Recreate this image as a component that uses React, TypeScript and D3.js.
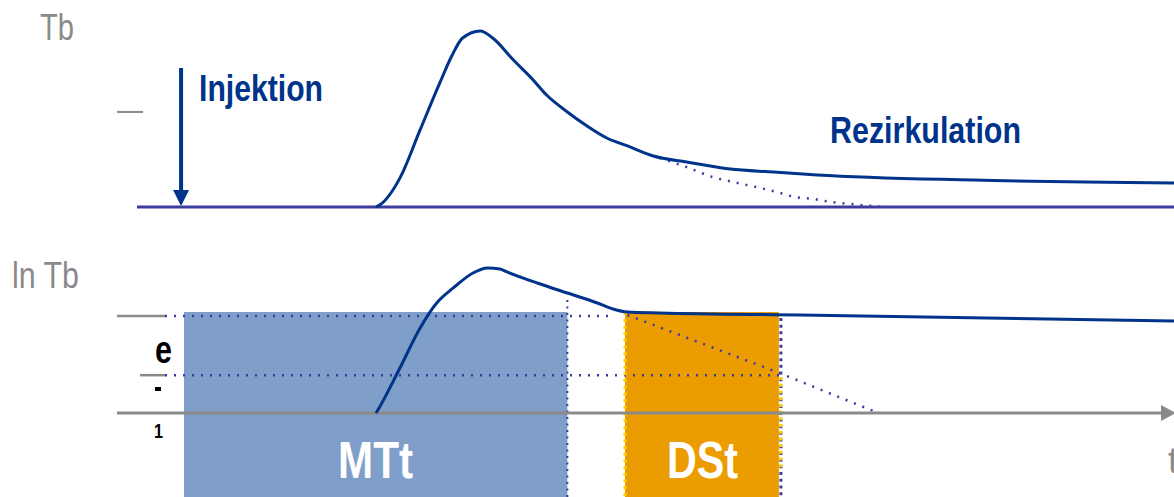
import React from "react";
import * as d3 from "d3";

// time axis (arbitrary units 0..100), values
const topCurveT = [23.05, 23.4, 25.4, 27.3, 29.2, 30.4, 31.4, 33.1, 34.3, 36.3, 38.2, 39.5, 41.5, 43.4, 45.3, 47.3, 49.8, 53.0, 57.2, 61.4, 65.6, 80.7, 100];
const topCurveV = [0, 1.1, 17, 43.8, 70.5, 86.4, 96, 100, 96, 83.5, 72.2, 63.6, 54, 46, 39.2, 34.7, 29, 25.6, 21.6, 19.9, 18.2, 15.3, 13.6];
const topExtrapT = [50.4, 53.0, 55.5, 57.5, 60.1, 62.0, 63.4, 65.3, 67.0, 68.9, 70.8, 72.2];
const topExtrapV = [27.8, 22.7, 17, 14.2, 10.8, 8, 5.7, 4.5, 2.8, 1.7, 0.6, 0];

const lnCurveT = [23.05, 23.4, 25.4, 27.3, 28.9, 30.5, 32.4, 33.8, 35.0, 35.7, 38.6, 41.5, 44.4, 45.9, 47.3, 50.4, 63.9, 100];
const lnCurveV = [0, 0.062, 0.474, 0.876, 1.134, 1.289, 1.443, 1.495, 1.485, 1.454, 1.34, 1.237, 1.134, 1.072, 1.041, 1.031, 1.01, 0.948];
const lnExtrapT = [47.3, 62.0, 71.5];
const lnExtrapV = [1.01, 0.41, 0];

const injectionT = 4.25;
const mttRange = [4.53, 41.5];
const dstRange = [47.06, 61.9];
const levelOne = 1;
const levelE = 0.39;
const labels = { top: "Tb", bottom: "ln Tb", inj: "Injektion", rez: "Rezirkulation", mtt: "MTt", dst: "DSt", t: "t" };

const W = 1174;
const H = 497;
const NAVY = "#00338a";
const BASE = "#3c3c9e";
const GRAY = "#8a8a8a";
const FONT = "'Liberation Sans', Arial, sans-serif";

function NText(props: { x: number; y: number; w?: number; size: number; bold?: boolean; fill: string; children: string; anchor?: string }) {
  const { x, y, w, size, bold, fill, children, anchor } = props;
  return (
    <text
      x={x}
      y={y}
      fontSize={size}
      fontWeight={bold ? "bold" : "normal"}
      fill={fill}
      textAnchor={anchor || "start"}
      textLength={w}
      lengthAdjust={w ? "spacingAndGlyphs" : undefined}
    >
      {children}
    </text>
  );
}

export default function App() {
  const x = d3.scaleLinear().domain([0, 100]).range([137, 1174]);
  const yTop = d3.scaleLinear().domain([0, 100]).range([207, 31]);
  const yLn = d3.scaleLinear().domain([0, 1]).range([413, 316]);

  const topLine = d3.line<number>().x((_, i) => x(topCurveT[i])).y((v) => yTop(v)).curve(d3.curveMonotoneX);
  const topEx = d3.line<number>().x((_, i) => x(topExtrapT[i])).y((v) => yTop(v)).curve(d3.curveMonotoneX);
  const lnLine = d3.line<number>().x((_, i) => x(lnCurveT[i])).y((v) => yLn(v)).curve(d3.curveMonotoneX);
  const lnEx = d3.line<number>().x((_, i) => x(lnExtrapT[i])).y((v) => yLn(v));

  const yBottom = H;
  const xStartDots = 165;

  return (
    <svg width={W} height={H} style={{ position: "fixed", left: 0, top: 0, background: "#fff" }} fontFamily={FONT}>
      {/* Top panel */}
      <NText x={40} y={40} w={34} size={36} fill={GRAY}>{labels.top}</NText>
      <line x1={117} x2={143} y1={yTop(54)} y2={yTop(54)} stroke={GRAY} strokeWidth={2} />
      <line x1={x(0)} x2={W} y1={yTop(0)} y2={yTop(0)} stroke={BASE} strokeWidth={3} />
      <line x1={x(injectionT)} x2={x(injectionT)} y1={68} y2={yTop(0) - 14} stroke={NAVY} strokeWidth={4} />
      <path d={`M${x(injectionT) - 8},${yTop(0) - 17} L${x(injectionT) + 8},${yTop(0) - 17} L${x(injectionT)},${yTop(0) - 1} Z`} fill={NAVY} />
      <NText x={199} y={101} w={124} size={36} bold fill={NAVY}>{labels.inj}</NText>
      <NText x={830} y={143} w={191} size={37} bold fill={NAVY}>{labels.rez}</NText>
      <path d={topEx(topExtrapV) || ""} fill="none" stroke={BASE} strokeWidth={2.5} strokeDasharray="2 7" />
      <path d={topLine(topCurveV) || ""} fill="none" stroke={NAVY} strokeWidth={3} />

      {/* Bottom panel */}
      <NText x={12} y={288} w={67} size={36} fill={GRAY}>{labels.bottom}</NText>
      <rect x={x(mttRange[0])} y={yLn(1.041)} width={x(mttRange[1]) - x(mttRange[0])} height={yBottom - yLn(1.041)} fill="#7f9ec9" />
      <rect x={x(dstRange[0])} y={yLn(1.041)} width={x(dstRange[1]) - x(dstRange[0])} height={yBottom - yLn(1.041)} fill="#eb9c00" />

      {/* left ticks */}
      <line x1={117} x2={xStartDots} y1={yLn(levelOne)} y2={yLn(levelOne)} stroke={GRAY} strokeWidth={2.5} />
      <line x1={140} x2={xStartDots} y1={yLn(levelE)} y2={yLn(levelE)} stroke={GRAY} strokeWidth={2.5} />
      <NText x={155} y={363} w={17} size={38} bold fill="#000">e</NText>
      <rect x={155} y={387} width={6} height={4} fill="#000" />
      <NText x={154} y={438} w={9} size={21} bold fill="#000">1</NText>

      {/* dotted reference lines */}
      <line x1={xStartDots} x2={613} y1={yLn(levelOne)} y2={yLn(levelOne)} stroke={BASE} strokeWidth={2.5} strokeDasharray="2 7" />
      <line x1={xStartDots} x2={780} y1={yLn(levelE)} y2={yLn(levelE)} stroke={BASE} strokeWidth={2.5} strokeDasharray="2 7" />
      <line x1={x(mttRange[1])} x2={x(mttRange[1])} y1={yLn(1.165)} y2={yBottom} stroke={BASE} strokeWidth={2} strokeDasharray="2 4.5" />
      <line x1={x(dstRange[0])} x2={x(dstRange[0])} y1={yLn(1.041)} y2={yBottom} stroke="#ffd000" strokeWidth={3} strokeDasharray="3 3.7" />
      <line x1={x(dstRange[1]) + 2} x2={x(dstRange[1]) + 2} y1={yLn(0.98)} y2={yBottom} stroke={BASE} strokeWidth={3} strokeDasharray="3 3.7" />
      <line x1={x(dstRange[1]) + 2} x2={x(dstRange[1]) + 2} y1={yLn(0.37)} y2={yLn(-0.56)} stroke="#ffd000" strokeWidth={3} strokeDasharray="3 3.7" />
      <path d={lnEx(lnExtrapV) || ""} fill="none" stroke={BASE} strokeWidth={2.5} strokeDasharray="2 7" />

      {/* axis */}
      <line x1={117} x2={1162} y1={yLn(0)} y2={yLn(0)} stroke={GRAY} strokeWidth={3} />
      <path d={`M1161,${yLn(0) - 8} L1176,${yLn(0)} L1161,${yLn(0) + 8} Z`} fill={GRAY} />
      <NText x={1168} y={473} size={36} fill={GRAY}>{labels.t}</NText>

      <path d={lnLine(lnCurveV) || ""} fill="none" stroke={NAVY} strokeWidth={3} />

      <NText x={338} y={478} w={75} size={52} bold fill="#fff">{labels.mtt}</NText>
      <NText x={667} y={478} w={71} size={52} bold fill="#fff">{labels.dst}</NText>
    </svg>
  );
}
